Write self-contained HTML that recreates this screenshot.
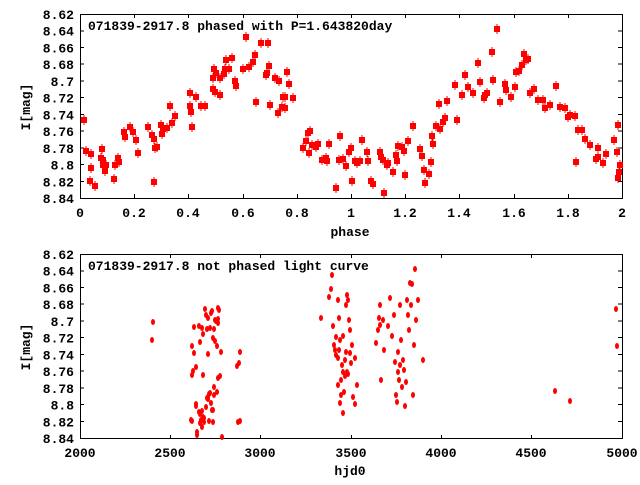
<!DOCTYPE html>
<html><head><meta charset="utf-8"><style>
html,body{margin:0;padding:0;background:#fff}
svg text{font-family:"Liberation Mono",monospace;font-weight:bold;font-size:13px;fill:#000}
</style></head><body>
<svg width="640" height="480" viewBox="0 0 640 480" xmlns="http://www.w3.org/2000/svg" xmlns:xlink="http://www.w3.org/1999/xlink">
<defs><g id="s" fill="#f00"><rect x="-3" y="-3" width="6" height="6"/><rect x="-0.5" y="-5" width="1" height="10"/></g></defs>
<rect x="80.5" y="14.5" width="542" height="184" fill="none" stroke="#000"/>
<rect x="80.5" y="254.5" width="542" height="184" fill="none" stroke="#000"/>
<g stroke="#000">
<path d="M80 31h4M80 47.5h4M80 64h4M80 81h4M80 97.5h4M80 114.5h4M80 131h4M80 148h4M80 164.5h4M80 181.5h4M622 31h-4M622 47.5h-4M622 64h-4M622 81h-4M622 97.5h-4M622 114.5h-4M622 131h-4M622 148h-4M622 164.5h-4M622 181.5h-4"/>
<path d="M80 271h4M80 287.5h4M80 304h4M80 321h4M80 337.5h4M80 354.5h4M80 371h4M80 388h4M80 404.5h4M80 421.5h4M622 271h-4M622 287.5h-4M622 304h-4M622 321h-4M622 337.5h-4M622 354.5h-4M622 371h-4M622 388h-4M622 404.5h-4M622 421.5h-4"/>
<path d="M134.5 198v-4M188.5 198v-4M243.5 198v-4M297.5 198v-4M351.5 198v-4M405.5 198v-4M459.5 198v-4M514.5 198v-4M568.5 198v-4M134.5 14v4M188.5 14v4M243.5 14v4M297.5 14v4M351.5 14v4M405.5 14v4M459.5 14v4M514.5 14v4M568.5 14v4"/>
<path d="M170.5 439v-4M260.5 439v-4M351.5 439v-4M441.5 439v-4M531.5 439v-4M170.5 254v4M260.5 254v4M351.5 254v4M441.5 254v4M531.5 254v4"/>
</g>
<g text-anchor="end">
<text x="74" y="19">8.62</text><text x="74" y="35.7">8.64</text><text x="74" y="52.5">8.66</text><text x="74" y="69.2">8.68</text><text x="74" y="85.9">8.7</text><text x="74" y="102.6">8.72</text><text x="74" y="119.4">8.74</text><text x="74" y="136.1">8.76</text><text x="74" y="152.8">8.78</text><text x="74" y="169.5">8.8</text><text x="74" y="186.3">8.82</text><text x="74" y="203">8.84</text>
<text x="74" y="259">8.62</text><text x="74" y="275.7">8.64</text><text x="74" y="292.5">8.66</text><text x="74" y="309.2">8.68</text><text x="74" y="325.9">8.7</text><text x="74" y="342.6">8.72</text><text x="74" y="359.4">8.74</text><text x="74" y="376.1">8.76</text><text x="74" y="392.8">8.78</text><text x="74" y="409.5">8.8</text><text x="74" y="426.3">8.82</text><text x="74" y="443">8.84</text>
</g>
<g text-anchor="middle">
<text x="80" y="217">0</text><text x="134" y="217">0.2</text><text x="188" y="217">0.4</text><text x="243" y="217">0.6</text><text x="297" y="217">0.8</text><text x="351" y="217">1</text><text x="405" y="217">1.2</text><text x="459" y="217">1.4</text><text x="514" y="217">1.6</text><text x="568" y="217">1.8</text><text x="622" y="217">2</text>
<text x="350" y="236">phase</text>
<text x="80" y="457">2000</text><text x="170" y="457">2500</text><text x="260" y="457">3000</text><text x="351" y="457">3500</text><text x="441" y="457">4000</text><text x="531" y="457">4500</text><text x="622" y="457">5000</text>
<text x="350" y="475">hjd0</text>
</g>
<text x="88" y="30">071839-2917.8 phased with P=1.643820day</text>
<text x="88" y="270">071839-2917.8 not phased light curve</text>
<text transform="translate(30,107) rotate(-90)" text-anchor="middle">I[mag]</text>
<text transform="translate(30,347) rotate(-90)" text-anchor="middle">I[mag]</text>
<g>
<use xlink:href="#s" href="#s" x="84" y="120"/><use href="#s" x="86" y="151"/><use href="#s" x="91" y="154"/><use href="#s" x="91" y="168"/><use href="#s" x="90" y="181"/><use href="#s" x="95" y="186"/><use href="#s" x="103" y="160"/><use href="#s" x="102" y="149"/><use href="#s" x="101" y="158"/><use href="#s" x="103" y="165"/><use href="#s" x="105" y="171"/><use href="#s" x="106" y="165"/><use href="#s" x="115" y="165"/><use href="#s" x="114" y="179"/><use href="#s" x="118" y="158"/><use href="#s" x="119" y="162"/><use href="#s" x="125" y="137"/><use href="#s" x="124" y="132"/><use href="#s" x="133" y="132"/><use href="#s" x="130" y="127"/><use href="#s" x="138" y="153"/><use href="#s" x="136" y="140"/><use href="#s" x="148" y="127"/><use href="#s" x="152" y="135"/><use href="#s" x="154" y="139"/><use href="#s" x="154" y="182"/><use href="#s" x="155" y="148"/><use href="#s" x="157" y="147"/><use href="#s" x="161" y="125"/><use href="#s" x="162" y="134"/><use href="#s" x="163" y="129"/><use href="#s" x="167" y="128"/><use href="#s" x="170" y="106"/><use href="#s" x="172" y="123"/><use href="#s" x="175" y="116"/><use href="#s" x="190" y="93"/><use href="#s" x="190" y="106"/><use href="#s" x="191" y="112"/><use href="#s" x="192" y="127"/><use href="#s" x="196" y="97"/><use href="#s" x="201" y="106"/><use href="#s" x="205" y="106"/><use href="#s" x="213" y="89"/><use href="#s" x="215" y="92"/><use href="#s" x="216" y="73"/><use href="#s" x="214" y="69"/><use href="#s" x="213" y="78"/><use href="#s" x="220" y="95"/><use href="#s" x="220" y="78"/><use href="#s" x="224" y="74"/><use href="#s" x="225" y="69"/><use href="#s" x="226" y="60"/><use href="#s" x="229" y="69"/><use href="#s" x="232" y="58"/><use href="#s" x="235" y="81"/><use href="#s" x="236" y="86"/><use href="#s" x="243" y="69"/><use href="#s" x="246" y="37"/><use href="#s" x="249" y="67"/><use href="#s" x="253" y="62"/><use href="#s" x="255" y="55"/><use href="#s" x="256" y="102"/><use href="#s" x="261" y="43"/><use href="#s" x="268" y="43"/><use href="#s" x="267" y="73"/><use href="#s" x="269" y="66"/><use href="#s" x="266" y="75"/><use href="#s" x="270" y="105"/><use href="#s" x="275" y="78"/><use href="#s" x="279" y="81"/><use href="#s" x="278" y="113"/><use href="#s" x="282" y="107"/><use href="#s" x="283" y="97"/><use href="#s" x="285" y="97"/><use href="#s" x="287" y="72"/><use href="#s" x="285" y="108"/><use href="#s" x="289" y="84"/><use href="#s" x="293" y="98"/>
<use href="#s" x="303" y="148"/><use href="#s" x="306" y="141"/><use href="#s" x="308" y="133"/><use href="#s" x="309" y="153"/><use href="#s" x="310" y="131"/><use href="#s" x="312" y="145"/><use href="#s" x="316" y="147"/><use href="#s" x="318" y="144"/><use href="#s" x="322" y="160"/><use href="#s" x="326" y="158"/><use href="#s" x="327" y="161"/><use href="#s" x="329" y="144"/><use href="#s" x="336" y="188"/><use href="#s" x="339" y="160"/><use href="#s" x="340" y="136"/><use href="#s" x="343" y="159"/><use href="#s" x="346" y="166"/><use href="#s" x="349" y="152"/><use href="#s" x="352" y="181"/><use href="#s" x="351" y="148"/><use href="#s" x="355" y="161"/><use href="#s" x="357" y="163"/><use href="#s" x="360" y="161"/><use href="#s" x="362" y="140"/><use href="#s" x="367" y="152"/><use href="#s" x="368" y="161"/><use href="#s" x="371" y="181"/><use href="#s" x="373" y="184"/><use href="#s" x="380" y="152"/><use href="#s" x="381" y="157"/><use href="#s" x="383" y="160"/><use href="#s" x="384" y="193"/><use href="#s" x="387" y="165"/><use href="#s" x="388" y="163"/><use href="#s" x="393" y="172"/><use href="#s" x="396" y="155"/><use href="#s" x="397" y="161"/><use href="#s" x="398" y="146"/><use href="#s" x="402" y="147"/><use href="#s" x="404" y="151"/><use href="#s" x="405" y="175"/><use href="#s" x="408" y="141"/><use href="#s" x="413" y="126"/><use href="#s" x="420" y="149"/><use href="#s" x="422" y="156"/><use href="#s" x="424" y="170"/><use href="#s" x="425" y="183"/><use href="#s" x="429" y="174"/><use href="#s" x="431" y="162"/><use href="#s" x="432" y="136"/><use href="#s" x="433" y="144"/><use href="#s" x="436" y="126"/><use href="#s" x="439" y="104"/><use href="#s" x="440" y="129"/><use href="#s" x="443" y="122"/><use href="#s" x="445" y="118"/><use href="#s" x="447" y="101"/><use href="#s" x="455" y="85"/><use href="#s" x="457" y="120"/><use href="#s" x="462" y="95"/><use href="#s" x="465" y="75"/><use href="#s" x="468" y="87"/><use href="#s" x="473" y="93"/><use href="#s" x="478" y="63"/><use href="#s" x="480" y="82"/><use href="#s" x="484" y="98"/><use href="#s" x="485" y="95"/><use href="#s" x="487" y="93"/><use href="#s" x="492" y="52"/><use href="#s" x="493" y="80"/><use href="#s" x="497" y="29"/><use href="#s" x="500" y="102"/><use href="#s" x="505" y="84"/><use href="#s" x="506" y="90"/><use href="#s" x="511" y="97"/><use href="#s" x="515" y="87"/><use href="#s" x="516" y="72"/><use href="#s" x="519" y="71"/><use href="#s" x="522" y="65"/><use href="#s" x="524" y="54"/><use href="#s" x="526" y="60"/><use href="#s" x="528" y="59"/><use href="#s" x="530" y="93"/><use href="#s" x="534" y="89"/><use href="#s" x="538" y="100"/><use href="#s" x="543" y="100"/><use href="#s" x="545" y="108"/><use href="#s" x="550" y="105"/><use href="#s" x="556" y="86"/><use href="#s" x="560" y="107"/><use href="#s" x="565" y="108"/><use href="#s" x="568" y="117"/><use href="#s" x="570" y="115"/><use href="#s" x="575" y="116"/><use href="#s" x="578" y="130"/><use href="#s" x="576" y="162"/><use href="#s" x="582" y="130"/><use href="#s" x="585" y="139"/><use href="#s" x="590" y="145"/><use href="#s" x="596" y="159"/><use href="#s" x="598" y="148"/><use href="#s" x="598" y="157"/><use href="#s" x="603" y="163"/><use href="#s" x="606" y="154"/><use href="#s" x="614" y="140"/><use href="#s" x="618" y="125"/><use href="#s" x="617" y="152"/><use href="#s" x="620" y="165"/><use href="#s" x="619" y="172"/><use href="#s" x="618" y="178"/>
</g>
<g fill="#f00">
<ellipse cx="153" cy="322" rx="2" ry="3"/><ellipse cx="152" cy="340" rx="2" ry="3"/><ellipse cx="194" cy="327" rx="2" ry="3"/><ellipse cx="192" cy="346" rx="2" ry="3"/><ellipse cx="194" cy="353" rx="2" ry="3"/><ellipse cx="199" cy="326" rx="2" ry="3"/><ellipse cx="200" cy="342" rx="2" ry="3"/><ellipse cx="202" cy="328" rx="2" ry="3"/><ellipse cx="203" cy="334" rx="2" ry="3"/><ellipse cx="205" cy="309" rx="2" ry="3"/><ellipse cx="206" cy="315" rx="2" ry="3"/><ellipse cx="207" cy="329" rx="2" ry="3"/><ellipse cx="208" cy="318" rx="2" ry="3"/><ellipse cx="208" cy="354" rx="2" ry="3"/><ellipse cx="210" cy="328" rx="2" ry="3"/><ellipse cx="211" cy="313" rx="2" ry="3"/><ellipse cx="212" cy="311" rx="2" ry="3"/><ellipse cx="215" cy="341" rx="2" ry="3"/><ellipse cx="215" cy="320" rx="2" ry="3"/><ellipse cx="214" cy="329" rx="2" ry="3"/><ellipse cx="213" cy="338" rx="2" ry="3"/><ellipse cx="217" cy="346" rx="2" ry="3"/><ellipse cx="218" cy="319" rx="2" ry="3"/><ellipse cx="221" cy="352" rx="2" ry="3"/><ellipse cx="218" cy="308" rx="2" ry="3"/><ellipse cx="216" cy="321" rx="2" ry="3"/><ellipse cx="203" cy="375" rx="2" ry="3"/><ellipse cx="193" cy="371" rx="2" ry="3"/><ellipse cx="196" cy="367" rx="2" ry="3"/><ellipse cx="214" cy="395" rx="2" ry="3"/><ellipse cx="192" cy="375" rx="2" ry="3"/><ellipse cx="196" cy="404" rx="2" ry="3"/><ellipse cx="199" cy="412" rx="2" ry="3"/><ellipse cx="196" cy="406" rx="2" ry="3"/><ellipse cx="200" cy="414" rx="2" ry="3"/><ellipse cx="201" cy="420" rx="2" ry="3"/><ellipse cx="202" cy="411" rx="2" ry="3"/><ellipse cx="204" cy="418" rx="2" ry="3"/><ellipse cx="206" cy="407" rx="2" ry="3"/><ellipse cx="207" cy="398" rx="2" ry="3"/><ellipse cx="208" cy="397" rx="2" ry="3"/><ellipse cx="209" cy="394" rx="2" ry="3"/><ellipse cx="210" cy="393" rx="2" ry="3"/><ellipse cx="211" cy="403" rx="2" ry="3"/><ellipse cx="212" cy="410" rx="2" ry="3"/><ellipse cx="213" cy="410" rx="2" ry="3"/><ellipse cx="208" cy="399" rx="2" ry="3"/><ellipse cx="214" cy="387" rx="2" ry="3"/><ellipse cx="220" cy="376" rx="2" ry="3"/><ellipse cx="191" cy="420" rx="2" ry="3"/><ellipse cx="192" cy="421" rx="2" ry="3"/><ellipse cx="197" cy="432" rx="2" ry="3"/><ellipse cx="200" cy="423" rx="2" ry="3"/><ellipse cx="202" cy="427" rx="2" ry="3"/><ellipse cx="204" cy="422" rx="2" ry="3"/><ellipse cx="203" cy="417" rx="2" ry="3"/><ellipse cx="209" cy="421" rx="2" ry="3"/><ellipse cx="213" cy="422" rx="2" ry="3"/><ellipse cx="197" cy="435" rx="2" ry="3"/><ellipse cx="222" cy="437" rx="2" ry="3"/><ellipse cx="218" cy="378" rx="2" ry="3"/><ellipse cx="217" cy="392" rx="2" ry="3"/><ellipse cx="237" cy="366" rx="2" ry="3"/><ellipse cx="239" cy="363" rx="2" ry="3"/><ellipse cx="240" cy="352" rx="2" ry="3"/><ellipse cx="238" cy="422" rx="2" ry="3"/><ellipse cx="240" cy="421" rx="2" ry="3"/><ellipse cx="218" cy="323" rx="2" ry="3"/><ellipse cx="219" cy="310" rx="2" ry="3"/>
<ellipse cx="321" cy="318" rx="2" ry="3"/><ellipse cx="329" cy="297" rx="2" ry="3"/><ellipse cx="331" cy="289" rx="2" ry="3"/><ellipse cx="332" cy="275" rx="2" ry="3"/><ellipse cx="333" cy="326" rx="2" ry="3"/><ellipse cx="335" cy="350" rx="2" ry="3"/><ellipse cx="334" cy="345" rx="2" ry="3"/><ellipse cx="336" cy="355" rx="2" ry="3"/><ellipse cx="338" cy="358" rx="2" ry="3"/><ellipse cx="338" cy="300" rx="2" ry="3"/><ellipse cx="339" cy="318" rx="2" ry="3"/><ellipse cx="340" cy="340" rx="2" ry="3"/><ellipse cx="341" cy="380" rx="2" ry="3"/><ellipse cx="342" cy="365" rx="2" ry="3"/><ellipse cx="343" cy="372" rx="2" ry="3"/><ellipse cx="344" cy="392" rx="2" ry="3"/><ellipse cx="345" cy="360" rx="2" ry="3"/><ellipse cx="346" cy="305" rx="2" ry="3"/><ellipse cx="347" cy="295" rx="2" ry="3"/><ellipse cx="348" cy="300" rx="2" ry="3"/><ellipse cx="349" cy="320" rx="2" ry="3"/><ellipse cx="350" cy="330" rx="2" ry="3"/><ellipse cx="350" cy="353" rx="2" ry="3"/><ellipse cx="351" cy="363" rx="2" ry="3"/><ellipse cx="352" cy="345" rx="2" ry="3"/><ellipse cx="338" cy="385" rx="2" ry="3"/><ellipse cx="340" cy="403" rx="2" ry="3"/><ellipse cx="341" cy="395" rx="2" ry="3"/><ellipse cx="343" cy="413" rx="2" ry="3"/><ellipse cx="345" cy="376" rx="2" ry="3"/><ellipse cx="347" cy="372" rx="2" ry="3"/><ellipse cx="353" cy="397" rx="2" ry="3"/><ellipse cx="355" cy="358" rx="2" ry="3"/><ellipse cx="355" cy="404" rx="2" ry="3"/><ellipse cx="357" cy="385" rx="2" ry="3"/><ellipse cx="336" cy="337" rx="2" ry="3"/><ellipse cx="339" cy="350" rx="2" ry="3"/><ellipse cx="343" cy="336" rx="2" ry="3"/><ellipse cx="346" cy="352" rx="2" ry="3"/><ellipse cx="348" cy="374" rx="2" ry="3"/>
<ellipse cx="376" cy="343" rx="2" ry="3"/><ellipse cx="378" cy="330" rx="2" ry="3"/><ellipse cx="379" cy="318" rx="2" ry="3"/><ellipse cx="380" cy="305" rx="2" ry="3"/><ellipse cx="381" cy="380" rx="2" ry="3"/><ellipse cx="383" cy="320" rx="2" ry="3"/><ellipse cx="384" cy="350" rx="2" ry="3"/><ellipse cx="388" cy="326" rx="2" ry="3"/><ellipse cx="390" cy="298" rx="2" ry="3"/><ellipse cx="392" cy="336" rx="2" ry="3"/><ellipse cx="394" cy="315" rx="2" ry="3"/><ellipse cx="395" cy="362" rx="2" ry="3"/><ellipse cx="396" cy="395" rx="2" ry="3"/><ellipse cx="397" cy="402" rx="2" ry="3"/><ellipse cx="398" cy="372" rx="2" ry="3"/><ellipse cx="399" cy="380" rx="2" ry="3"/><ellipse cx="400" cy="305" rx="2" ry="3"/><ellipse cx="401" cy="340" rx="2" ry="3"/><ellipse cx="402" cy="387" rx="2" ry="3"/><ellipse cx="403" cy="360" rx="2" ry="3"/><ellipse cx="404" cy="370" rx="2" ry="3"/><ellipse cx="405" cy="406" rx="2" ry="3"/><ellipse cx="407" cy="300" rx="2" ry="3"/><ellipse cx="408" cy="315" rx="2" ry="3"/><ellipse cx="409" cy="330" rx="2" ry="3"/><ellipse cx="410" cy="283" rx="2" ry="3"/><ellipse cx="411" cy="305" rx="2" ry="3"/><ellipse cx="412" cy="284" rx="2" ry="3"/><ellipse cx="413" cy="395" rx="2" ry="3"/><ellipse cx="414" cy="345" rx="2" ry="3"/><ellipse cx="415" cy="269" rx="2" ry="3"/><ellipse cx="416" cy="320" rx="2" ry="3"/><ellipse cx="418" cy="300" rx="2" ry="3"/><ellipse cx="423" cy="360" rx="2" ry="3"/><ellipse cx="400" cy="365" rx="2" ry="3"/><ellipse cx="406" cy="382" rx="2" ry="3"/><ellipse cx="398" cy="352" rx="2" ry="3"/><ellipse cx="380" cy="325" rx="2" ry="3"/>
<ellipse cx="555" cy="391" rx="2" ry="3"/><ellipse cx="570" cy="401" rx="2" ry="3"/><ellipse cx="616" cy="309" rx="2" ry="3"/><ellipse cx="617" cy="346" rx="2" ry="3"/>
</g>
</svg>
</body></html>
